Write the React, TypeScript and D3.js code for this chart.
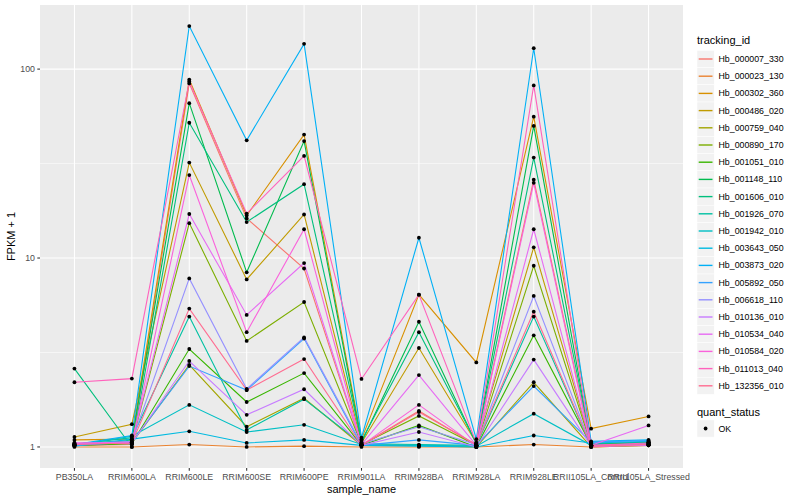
import React from "react";
import * as d3 from "d3";

const samples = [
  "PB350LA", "RRIM600LA", "RRIM600LE", "RRIM600SE", "RRIM600PE", "RRIM901LA",
  "RRIM928BA", "RRIM928LA", "RRIM928LE", "RRII105LA_Control", "RRII105LA_Stressed",
];

const trackingIds = [
  "Hb_000007_330", "Hb_000023_130", "Hb_000302_360", "Hb_000486_020", "Hb_000759_040",
  "Hb_000890_170", "Hb_001051_010", "Hb_001148_110", "Hb_001606_010", "Hb_001926_070",
  "Hb_001942_010", "Hb_003643_050", "Hb_003873_020", "Hb_005892_050", "Hb_006618_110",
  "Hb_010136_010", "Hb_010534_040", "Hb_010584_020", "Hb_011013_040", "Hb_132356_010",
];

const palette = [
  "#F8766D", "#EA8331", "#D89000", "#C09B00", "#A3A500", "#7CAE00", "#39B600",
  "#00BB4E", "#00BF7D", "#00C1A3", "#00BFC4", "#00BAE0", "#00B0F6", "#35A2FF",
  "#9590FF", "#C77CFF", "#E76BF3", "#FA62DB", "#FF62BC", "#FF6C91",
];

// FPKM + 1 per tracking id, in sample order
const fpkm = [
  [1.02, 1.03, 84, 16.2, 8.8, 1.02, 1.55, 1.02, 26, 1.02, 1.05],
  [1.0, 1.0, 1.03, 1.0, 1.01, 1.0, 1.0, 1.0, 1.03, 1.0, 1.02],
  [1.09, 1.1, 88, 16.8, 45, 1.1, 6.4, 2.8, 56, 1.25, 1.45],
  [1.13, 1.32, 32, 7.7, 17, 1.05, 3.34, 1.05, 11.4, 1.03, 1.06],
  [1.03, 1.05, 2.72, 1.28, 1.81, 1.02, 1.02, 1.0, 2.2, 1.0, 1.02],
  [1.02, 1.05, 15.3, 3.64, 5.85, 1.03, 1.46, 1.02, 9.1, 1.02, 1.03],
  [1.02, 1.04, 3.3, 1.73, 2.46, 1.02, 1.3, 1.0, 3.9, 1.02, 1.04],
  [1.04, 1.08, 66, 8.4, 41.6, 1.06, 4.6, 1.04, 50, 1.03, 1.05],
  [2.6, 1.0, 52, 15.5, 24.6, 1.08, 4.05, 1.05, 34, 1.04, 1.06],
  [1.03, 1.12, 4.9, 1.23, 1.79, 1.04, 1.03, 1.02, 4.9, 1.01, 1.03],
  [1.02, 1.14, 1.67, 1.2, 1.31, 1.03, 1.02, 1.01, 1.5, 1.02, 1.04],
  [1.01, 1.1, 1.21, 1.05, 1.09, 1.02, 1.01, 1.0, 1.15, 1.05, 1.07],
  [1.03, 1.15, 169, 42, 136, 1.12, 12.8, 1.1, 129, 1.07, 1.09],
  [1.02, 1.06, 2.68, 2.0, 3.75, 1.02, 1.09, 1.02, 2.1, 1.06, 1.08],
  [1.03, 1.07, 7.8, 2.03, 3.8, 1.04, 1.28, 1.03, 6.3, 1.02, 1.04],
  [1.04, 1.05, 2.85, 1.48, 2.02, 1.02, 1.2, 1.0, 2.9, 1.01, 1.02],
  [1.05, 1.06, 17.1, 5.0, 9.4, 1.03, 2.4, 1.02, 14.2, 1.02, 1.3],
  [1.05, 1.04, 27.5, 4.05, 14.2, 1.02, 1.67, 1.01, 25, 1.0, 1.03],
  [2.2, 2.3, 86, 17.2, 34.7, 2.29, 6.4, 1.05, 82, 1.02, 1.05],
  [1.03, 1.05, 5.4, 2.0, 2.92, 1.02, 1.53, 1.03, 5.2, 1.01, 1.03],
];

const yTicks = [1, 10, 100];
const yMinor = [Math.pow(10, 0.5), Math.pow(10, 1.5)];
const statusLevels = ["OK"];

const W = 800;
const H = 500;
const panel = { left: 40, right: 683, top: 5, bottom: 468 };
const FONT = "'Liberation Sans', Arial, Helvetica, sans-serif";

export default function App() {
  const all = fpkm.flat();
  const lo = Math.log10(d3.min(all) as number);
  const hi = Math.log10(d3.max(all) as number);
  const pad = (hi - lo) * 0.05;

  const x = d3.scalePoint<string>().domain(samples).range([panel.left, panel.right]).padding(0.6);
  const y = d3.scaleLog().domain([Math.pow(10, lo - pad), Math.pow(10, hi + pad)]).range([panel.bottom, panel.top]);

  const line = d3
    .line<number>()
    .x((_, i) => x(samples[i]) as number)
    .y((d) => y(d));

  const legendX = 697;
  const legendY0 = 59;
  const legendStep = 17.2;

  return (
    <svg
      width={W}
      height={H}
      style={{ position: "absolute", left: 0, top: 0, background: "#fff" }}
      fontFamily={FONT}
    >
      <rect x={0} y={0} width={W} height={H} fill="#fff" />
      {/* panel */}
      <rect x={panel.left} y={panel.top} width={panel.right - panel.left} height={panel.bottom - panel.top} fill="#EBEBEB" />
      {yMinor.map((v, i) => (
        <line key={"mn" + i} x1={panel.left} x2={panel.right} y1={y(v)} y2={y(v)} stroke="#fff" strokeWidth={0.55} />
      ))}
      {yTicks.map((v) => (
        <line key={"mj" + v} x1={panel.left} x2={panel.right} y1={y(v)} y2={y(v)} stroke="#fff" strokeWidth={1.07} />
      ))}
      {samples.map((s) => (
        <line key={"vx" + s} x1={x(s)} x2={x(s)} y1={panel.top} y2={panel.bottom} stroke="#fff" strokeWidth={1.07} />
      ))}

      {/* lines */}
      {fpkm.map((vals, i) => (
        <path key={"l" + i} d={line(vals) as string} fill="none" stroke={palette[i]} strokeWidth={1.1} />
      ))}
      {/* points */}
      {fpkm.map((vals, i) =>
        vals.map((v, j) => (
          <circle key={"p" + i + "-" + j} cx={x(samples[j])} cy={y(v)} r={1.9} fill="#000" />
        ))
      )}

      {/* y axis */}
      {yTicks.map((v) => (
        <g key={"yt" + v}>
          <line x1={panel.left - 2.7} x2={panel.left} y1={y(v)} y2={y(v)} stroke="#333" strokeWidth={1.07} />
          <text x={panel.left - 5} y={y(v)} dy="0.35em" textAnchor="end" fontSize={8.8} fill="#4D4D4D">
            {v}
          </text>
        </g>
      ))}
      {/* x axis */}
      {samples.map((s) => (
        <g key={"xt" + s}>
          <line x1={x(s)} x2={x(s)} y1={panel.bottom} y2={panel.bottom + 2.7} stroke="#333" strokeWidth={1.07} />
          <text x={x(s)} y={panel.bottom + 12} textAnchor="middle" fontSize={8.8} fill="#4D4D4D">
            {s}
          </text>
        </g>
      ))}
      <text x={(panel.left + panel.right) / 2} y={493} textAnchor="middle" fontSize={11} fill="#000">
        sample_name
      </text>
      <text
        transform={`translate(15,${(panel.top + panel.bottom) / 2}) rotate(-90)`}
        textAnchor="middle"
        fontSize={11}
        fill="#000"
      >
        FPKM + 1
      </text>

      {/* legend: tracking_id */}
      <text x={legendX} y={44} fontSize={11} fill="#000">
        tracking_id
      </text>
      {trackingIds.map((id, i) => {
        const cy = legendY0 + i * legendStep;
        return (
          <g key={"lg" + id}>
            <rect x={legendX} y={cy - 8.6} width={17.2} height={17.2} fill="#F2F2F2" stroke="#fff" strokeWidth={0.5} />
            <line x1={legendX + 1.7} x2={legendX + 15.5} y1={cy} y2={cy} stroke={palette[i]} strokeWidth={1.4} />
            <text x={legendX + 21.5} y={cy} dy="0.35em" fontSize={8.8} fill="#000">
              {id}
            </text>
          </g>
        );
      })}

      {/* legend: quant_status */}
      <text x={legendX} y={416} fontSize={11} fill="#000">
        quant_status
      </text>
      {statusLevels.map((s, i) => {
        const cy = 428.5 + i * legendStep;
        return (
          <g key={"qs" + s}>
            <rect x={legendX} y={cy - 8.6} width={17.2} height={17.2} fill="#F2F2F2" stroke="#fff" strokeWidth={0.5} />
            <circle cx={legendX + 8.6} cy={cy} r={1.9} fill="#000" />
            <text x={legendX + 21.5} y={cy} dy="0.35em" fontSize={8.8} fill="#000">
              {s}
            </text>
          </g>
        );
      })}
    </svg>
  );
}
